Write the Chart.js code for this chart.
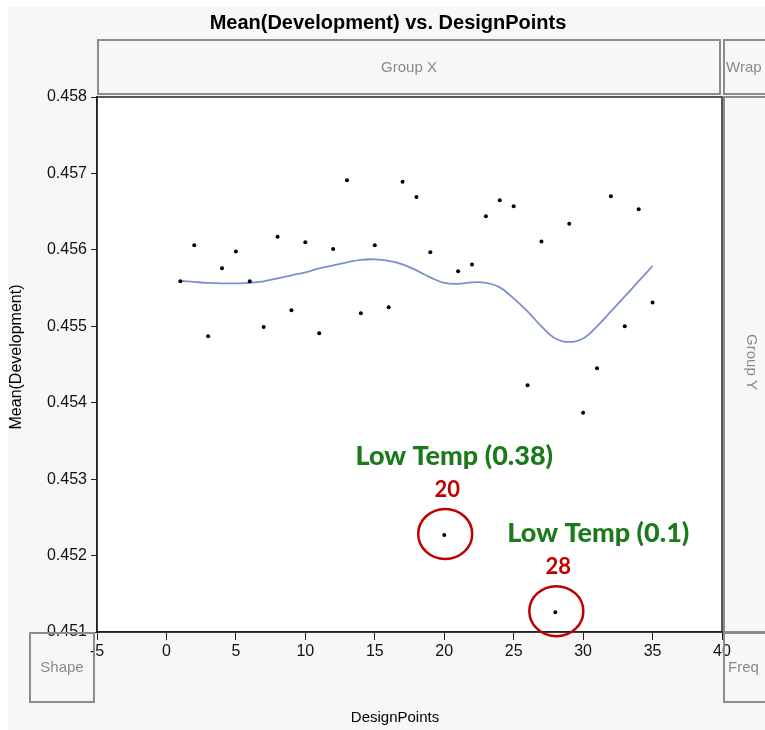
<!DOCTYPE html>
<html>
<head>
<meta charset="utf-8">
<script src="https://cdn.jsdelivr.net/npm/chart.js@4.4.0/dist/chart.umd.min.js"></script>
<style>
  html, body { margin: 0; padding: 0; background: #fff; }
</style>
</head>
<body>
<canvas id="chart" width="765" height="730"></canvas>
<script>
// Data
const designPoints = [1, 2, 3, 4, 5, 6, 7, 8, 9, 10, 11, 12, 13, 14, 15, 16, 17, 18,
    19, 20, 21, 22, 23, 24, 25, 26, 27, 28, 29, 30, 31, 32, 33, 34, 35];
const meanDevelopment = [0.45559, 0.45606, 0.45487, 0.45576, 0.45598, 0.45559, 0.45499,
    0.45617, 0.45521, 0.45610, 0.45491, 0.45601, 0.45691, 0.45517, 0.45606, 0.45525,
    0.45689, 0.45669, 0.45597, 0.45227, 0.45572, 0.45581, 0.45644, 0.45665, 0.45657,
    0.45423, 0.45611, 0.45126, 0.45634, 0.45387, 0.45445, 0.45670, 0.45500, 0.45653, 0.45531];

// smoother line
const smoothX = [1, 2, 3, 4, 5, 6, 7, 8, 9, 10, 11, 12, 13, 14, 15, 16, 17, 18,
    19, 20, 21, 22, 23, 24, 25, 26, 27, 28, 29, 30, 31, 32, 33, 34, 35];
const smoothY = [0.455595, 0.455581, 0.455568, 0.455562, 0.455562, 0.455568, 0.455588,
    0.455627, 0.455667, 0.455706, 0.455758, 0.455798, 0.455837, 0.455870, 0.455876,
    0.455857, 0.455811, 0.455732, 0.455640, 0.455568, 0.455555, 0.455575, 0.455568,
    0.455509, 0.455365, 0.455195, 0.454998, 0.454841, 0.454795, 0.454841, 0.454998,
    0.455195, 0.455390, 0.455590, 0.455790];

const xTickValues = [-5, 0, 5, 10, 15, 20, 25, 30, 35, 40];
const yTickValues = [0.451, 0.452, 0.453, 0.454, 0.455, 0.456, 0.457, 0.458];

// circled outliers
const flaggedPoints = [20, 28];
const flaggedNotes = ['Low Temp (0.38)', 'Low Temp (0.1)'];

const FONT = "'Liberation Sans', Arial, sans-serif";
const NOTE_FONT = "Lato, 'Open Sans', sans-serif";

const decorations = {
    id: 'decorations',
    beforeDraw(chart) {
        const { ctx, chartArea: a } = chart;
        ctx.save();
        ctx.fillStyle = '#ffffff';
        ctx.fillRect(0, 0, chart.width, chart.height);
        ctx.fillStyle = '#f7f7f7';
        ctx.fillRect(8, 7, chart.width - 8, chart.height - 7);
        ctx.fillStyle = '#ffffff';
        ctx.fillRect(a.left, a.top, a.right - a.left, a.bottom - a.top);
        ctx.restore();
    },
    afterDraw(chart) {
        const { ctx, chartArea: a } = chart;
        ctx.save();

        // gray drop zones
        ctx.strokeStyle = '#8c8c8c';
        ctx.lineWidth = 2;
        ctx.strokeRect(98, 40, 622, 54);      // Group X
        ctx.strokeRect(724, 40, 50, 54);      // Wrap
        ctx.strokeRect(724, 97, 50, 535);     // Group Y
        ctx.strokeRect(724, 633, 50, 69);     // Freq
        ctx.strokeRect(30, 633, 64, 69);      // Shape

        ctx.fillStyle = '#8a8a8a';
        ctx.font = '15px ' + FONT;
        ctx.textBaseline = 'middle';
        ctx.textAlign = 'center';
        ctx.fillText('Group X', 409, 68);
        ctx.fillText('Shape', 62, 668);
        ctx.textAlign = 'left';
        ctx.fillText('Wrap', 726, 68);
        ctx.fillText('Freq', 728, 668);
        ctx.save();
        ctx.translate(751, 362);
        ctx.rotate(Math.PI / 2);
        ctx.textAlign = 'center';
        ctx.fillText('Group Y', 0, 0);
        ctx.restore();

        // plot frame
        ctx.strokeStyle = '#222';
        ctx.lineWidth = 1.5;
        ctx.strokeRect(a.left, a.top, a.right - a.left, a.bottom - a.top);

        // titles
        ctx.fillStyle = '#000';
        ctx.textAlign = 'center';
        ctx.font = 'bold 20px ' + FONT;
        ctx.fillText('Mean(Development) vs. DesignPoints', 388, 23);
        ctx.font = '15px ' + FONT;
        ctx.fillText('DesignPoints', 395, 718);
        ctx.save();
        ctx.translate(17, 357);
        ctx.rotate(-Math.PI / 2);
        ctx.font = '16px ' + FONT;
        ctx.fillText('Mean(Development)', 0, 0);
        ctx.restore();

        // annotations for the two low points
        const noteShift = [10, 43];
        flaggedPoints.forEach((p, i) => {
            const idx = designPoints.indexOf(p);
            const px = chart.scales.x.getPixelForValue(p);
            const py = chart.scales.y.getPixelForValue(meanDevelopment[idx]);
            ctx.strokeStyle = '#c00000';
            ctx.lineWidth = 2.5;
            ctx.beginPath();
            ctx.ellipse(px + 1, py - 1, 27, 25, 0, 0, Math.PI * 2);
            ctx.stroke();
            ctx.fillStyle = '#c00000';
            ctx.font = 'bold 22px ' + NOTE_FONT;
            ctx.textAlign = 'center';
            ctx.fillText(String(p), px + 3, py - 45);
            ctx.fillStyle = '#1c7a1c';
            ctx.font = '900 27px ' + NOTE_FONT;
            ctx.fillText(flaggedNotes[i], px + noteShift[i], py - 79);
        });
        ctx.restore();
    }
};

new Chart(document.getElementById('chart'), {
    type: 'scatter',
    data: {
        datasets: [{
            label: 'Mean(Development)',
            data: designPoints.map((x, i) => ({ x: x, y: meanDevelopment[i] })),
            pointRadius: 2,
            pointBackgroundColor: '#000',
            pointBorderWidth: 0,
            showLine: false,
            order: 1
        }, {
            label: 'Smoother',
            data: smoothX.map((x, i) => ({ x: x, y: smoothY[i] })),
            showLine: true,
            pointRadius: 0,
            borderColor: '#7b90cc',
            borderWidth: 1.8,
            tension: 0.4,
            order: 2
        }]
    },
    options: {
        responsive: false,
        animation: false,
        layout: { padding: { top: 97, right: 43, left: 0, bottom: 0 } },
        plugins: {
            legend: { display: false },
            tooltip: { enabled: false }
        },
        scales: {
            x: {
                type: 'linear',
                min: -5,
                max: 40,
                afterFit(s) { s.height = 98; },
                afterBuildTicks(s) { s.ticks = xTickValues.map(v => ({ value: v })); },
                grid: { drawOnChartArea: false, color: '#222', tickLength: 8 },
                border: { color: '#222', width: 1.5 },
                ticks: {
                    color: '#111', padding: 2, maxRotation: 0, autoSkip: false,
                    font: { family: FONT, size: 16 },
                    callback: v => String(v)
                }
            },
            y: {
                type: 'linear',
                min: 0.451,
                max: 0.458,
                afterFit(s) { s.width = 97; },
                afterBuildTicks(s) { s.ticks = yTickValues.map(v => ({ value: v })); },
                grid: { drawOnChartArea: false, color: '#222', tickLength: 6 },
                border: { color: '#222', width: 1.5 },
                ticks: {
                    color: '#111', padding: 4, autoSkip: false,
                    font: { family: FONT, size: 16 },
                    callback: v => Number(v).toFixed(3)
                }
            }
        }
    },
    plugins: [decorations]
});
</script>
</body>
</html>
